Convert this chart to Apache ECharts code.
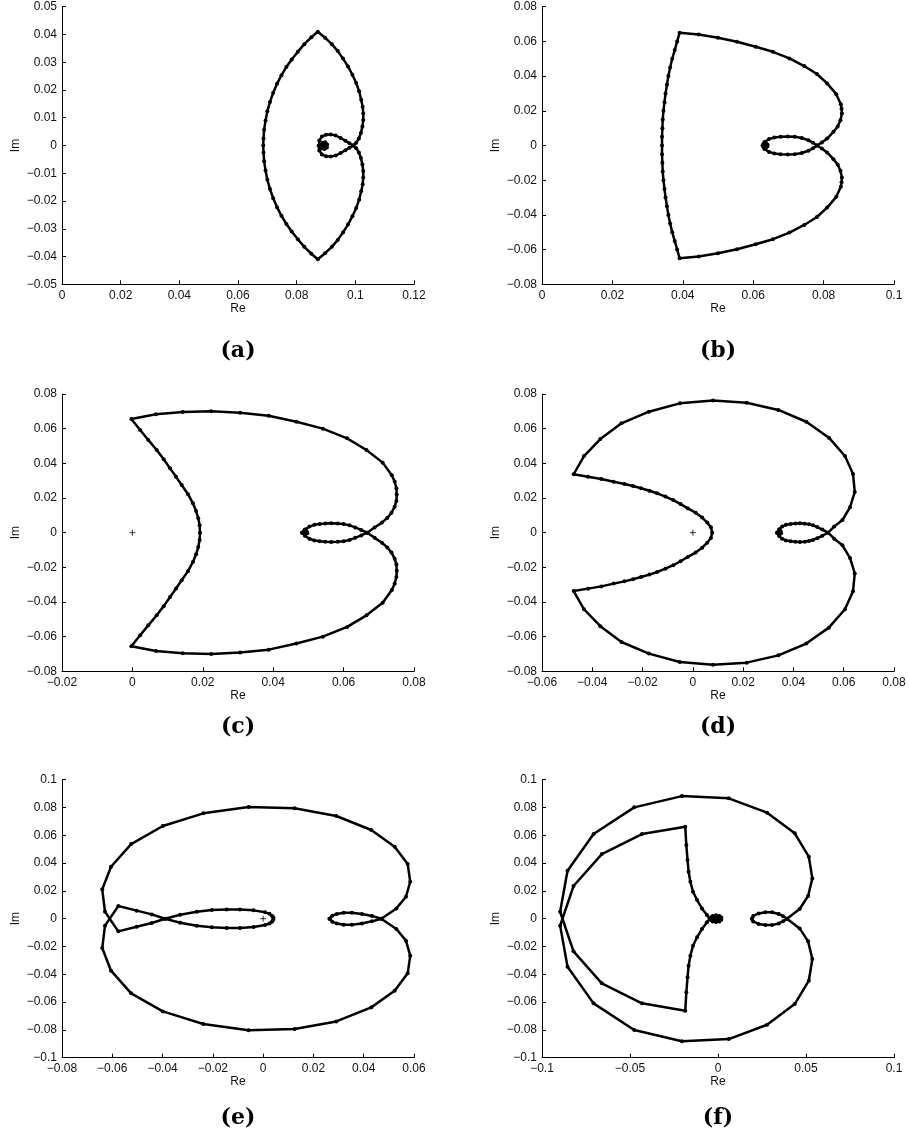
<!DOCTYPE html>
<html>
<head>
<meta charset="utf-8">
<script src="https://cdn.jsdelivr.net/npm/echarts@6/dist/echarts.min.js"></script>
<style>
html, body { margin: 0; padding: 0; background: #fff; }
#chart { width: 909px; height: 1142px; }
</style>
</head>
<body>
<div id="chart"></div>
<script>
// curve points [Re, Im], in drawing order
var curveA = [
    [0.0893, 0.0000], [0.0899, 0.0006], [0.0901, -0.0003], [0.0896, -0.0009], [0.0888, -0.0008], [0.0884, 0.0002],
    [0.0888, 0.0010], [0.0897, 0.0012], [0.0904, 0.0004], [0.0903, -0.0007], [0.0895, -0.0013], [0.0884, -0.0011], [0.0877, -0.0002],
    [0.0877, 0.0018], [0.0886, 0.0032], [0.0900, 0.0039], [0.0916, 0.0040], [0.0933, 0.0036], [0.0950, 0.0027], [0.0966, 0.0017],
    [0.0980, 0.0008], [0.0993, 0.0000],
    [0.1003, -0.0010], [0.1012, -0.0025], [0.1019, -0.0045], [0.1024, -0.0068], [0.1027, -0.0092], [0.1027, -0.0115], [0.1025, -0.0140],
    [0.1020, -0.0165], [0.1013, -0.0195], [0.1003, -0.0225], [0.0990, -0.0255], [0.0975, -0.0285], [0.0958, -0.0313], [0.0940, -0.0340],
    [0.0920, -0.0365], [0.0897, -0.0388], [0.0872, -0.0410],
    [0.0850, -0.0390], [0.0826, -0.0365], [0.0804, -0.0338], [0.0783, -0.0310], [0.0765, -0.0283], [0.0748, -0.0253], [0.0733, -0.0222],
    [0.0720, -0.0190], [0.0709, -0.0157], [0.0700, -0.0123], [0.0694, -0.0090], [0.0689, -0.0057], [0.0687, -0.0025], [0.0686, 0.0000],
    [0.0687, 0.0025], [0.0689, 0.0057], [0.0694, 0.0090], [0.0700, 0.0123], [0.0709, 0.0157], [0.0720, 0.0190], [0.0733, 0.0222],
    [0.0748, 0.0253], [0.0765, 0.0283], [0.0783, 0.0310], [0.0804, 0.0338], [0.0826, 0.0365], [0.0850, 0.0390], [0.0872, 0.0410],
    [0.0897, 0.0388], [0.0920, 0.0365], [0.0940, 0.0340], [0.0958, 0.0313], [0.0975, 0.0285], [0.0990, 0.0255], [0.1003, 0.0225],
    [0.1013, 0.0195], [0.1020, 0.0165], [0.1025, 0.0140], [0.1027, 0.0115], [0.1027, 0.0092], [0.1024, 0.0068], [0.1019, 0.0045],
    [0.1012, 0.0025], [0.1003, 0.0010], [0.0993, 0.0000],
    [0.0980, -0.0008], [0.0966, -0.0017], [0.0950, -0.0027], [0.0933, -0.0036], [0.0916, -0.0040], [0.0900, -0.0039], [0.0886, -0.0032],
    [0.0877, -0.0018], [0.0875, 0.0000]
];

var curveB = [
    [0.0634, 0.0000], [0.0638, 0.0008], [0.0640, -0.0004], [0.0635, -0.0012], [0.0629, -0.0006], [0.0629, 0.0008], [0.0635, 0.0014],
    [0.0641, 0.0004], [0.0638, -0.0010], [0.0630, -0.0012], [0.0627, 0.0000],
    [0.0632, 0.0020], [0.0645, 0.0037], [0.0660, 0.0046], [0.0678, 0.0051], [0.0698, 0.0052], [0.0718, 0.0050], [0.0738, 0.0043],
    [0.0757, 0.0030], [0.0770, 0.0016], [0.0781, 0.0000],
    [0.0795, -0.0017], [0.0810, -0.0040], [0.0828, -0.0079], [0.0840, -0.0110], [0.0848, -0.0145], [0.0852, -0.0185], [0.0851, -0.0212],
    [0.0849, -0.0238], [0.0836, -0.0296], [0.0810, -0.0358], [0.0781, -0.0412], [0.0745, -0.0458], [0.0703, -0.0502], [0.0656, -0.0540],
    [0.0607, -0.0569], [0.0554, -0.0598], [0.0500, -0.0621], [0.0445, -0.0640], [0.0391, -0.0650],
    [0.0384, -0.0600], [0.0377, -0.0550], [0.0370, -0.0500], [0.0364, -0.0450], [0.0359, -0.0400], [0.0355, -0.0350], [0.0351, -0.0300],
    [0.0348, -0.0250], [0.0345, -0.0200], [0.0343, -0.0150], [0.0342, -0.0100], [0.0341, -0.0050], [0.0341, 0.0000], [0.0341, 0.0050],
    [0.0342, 0.0100], [0.0343, 0.0150], [0.0345, 0.0200], [0.0348, 0.0250], [0.0351, 0.0300], [0.0355, 0.0350], [0.0359, 0.0400],
    [0.0364, 0.0450], [0.0370, 0.0500], [0.0377, 0.0550], [0.0384, 0.0600], [0.0391, 0.0650],
    [0.0445, 0.0640], [0.0500, 0.0621], [0.0554, 0.0598], [0.0607, 0.0569], [0.0656, 0.0540], [0.0703, 0.0502], [0.0745, 0.0458],
    [0.0781, 0.0412], [0.0810, 0.0358], [0.0836, 0.0296], [0.0849, 0.0238], [0.0851, 0.0212], [0.0852, 0.0185], [0.0848, 0.0145],
    [0.0840, 0.0110], [0.0828, 0.0079], [0.0810, 0.0040], [0.0795, 0.0017], [0.0781, 0.0000],
    [0.0770, -0.0016], [0.0757, -0.0030], [0.0738, -0.0043], [0.0718, -0.0050], [0.0698, -0.0052], [0.0678, -0.0051], [0.0660, -0.0046],
    [0.0645, -0.0037], [0.0632, -0.0020], [0.0627, 0.0000]
];

var curveC = [
    [0.0491, 0.0000], [0.0495, 0.0008], [0.0497, -0.0004], [0.0491, -0.0010], [0.0486, -0.0004], [0.0487, 0.0008], [0.0493, 0.0011],
    [0.0482, 0.0000],
    [0.0490, 0.0018], [0.0503, 0.0035], [0.0517, 0.0045], [0.0532, 0.0050], [0.0548, 0.0053], [0.0565, 0.0054], [0.0583, 0.0053],
    [0.0600, 0.0050], [0.0617, 0.0042], [0.0633, 0.0030], [0.0650, 0.0016], [0.0667, 0.0000],
    [0.0688, -0.0030], [0.0709, -0.0058], [0.0724, -0.0085], [0.0736, -0.0115], [0.0745, -0.0150], [0.0750, -0.0183], [0.0751, -0.0220],
    [0.0750, -0.0256], [0.0745, -0.0295], [0.0737, -0.0331], [0.0711, -0.0404], [0.0665, -0.0477], [0.0610, -0.0544], [0.0541, -0.0600],
    [0.0466, -0.0640], [0.0387, -0.0675], [0.0306, -0.0692], [0.0224, -0.0700], [0.0143, -0.0696], [0.0067, -0.0683], [-0.0003, -0.0656],
    [0.0022, -0.0592], [0.0045, -0.0535], [0.0069, -0.0477], [0.0089, -0.0424], [0.0107, -0.0371], [0.0124, -0.0322], [0.0140, -0.0275],
    [0.0158, -0.0222], [0.0172, -0.0169], [0.0181, -0.0125], [0.0187, -0.0083], [0.0191, -0.0042], [0.0192, 0.0000],
    [0.0191, 0.0042], [0.0187, 0.0083], [0.0181, 0.0125], [0.0172, 0.0169], [0.0158, 0.0222], [0.0140, 0.0275], [0.0124, 0.0322],
    [0.0107, 0.0371], [0.0089, 0.0424], [0.0069, 0.0477], [0.0045, 0.0535], [0.0022, 0.0592], [-0.0003, 0.0656],
    [0.0067, 0.0683], [0.0143, 0.0696], [0.0224, 0.0700], [0.0306, 0.0692], [0.0387, 0.0675], [0.0466, 0.0640], [0.0541, 0.0600],
    [0.0610, 0.0544], [0.0665, 0.0477], [0.0711, 0.0404], [0.0737, 0.0331], [0.0745, 0.0295], [0.0750, 0.0256], [0.0751, 0.0220],
    [0.0750, 0.0183], [0.0745, 0.0150], [0.0736, 0.0115], [0.0724, 0.0085], [0.0709, 0.0058], [0.0688, 0.0030], [0.0667, 0.0000],
    [0.0650, -0.0016], [0.0633, -0.0030], [0.0617, -0.0042], [0.0600, -0.0050], [0.0583, -0.0053], [0.0565, -0.0054], [0.0548, -0.0053],
    [0.0532, -0.0050], [0.0517, -0.0045], [0.0503, -0.0035], [0.0490, -0.0018], [0.0482, 0.0000]
];

var curveD = [
    [0.0345, 0.0000], [0.0349, 0.0008], [0.0351, -0.0004], [0.0345, -0.0010], [0.0340, -0.0004], [0.0341, 0.0008], [0.0347, 0.0011],
    [0.0335, 0.0000],
    [0.0343, 0.0020], [0.0355, 0.0035], [0.0370, 0.0045], [0.0389, 0.0050], [0.0408, 0.0053], [0.0426, 0.0054], [0.0445, 0.0052],
    [0.0462, 0.0048], [0.0478, 0.0042], [0.0495, 0.0032], [0.0515, 0.0018], [0.0538, 0.0000],
    [0.0562, -0.0035], [0.0595, -0.0073], [0.0625, -0.0146], [0.0644, -0.0235], [0.0637, -0.0338], [0.0605, -0.0442], [0.0541, -0.0548],
    [0.0451, -0.0640], [0.0340, -0.0708], [0.0214, -0.0750], [0.0080, -0.0762], [-0.0052, -0.0746], [-0.0175, -0.0698], [-0.0284, -0.0631],
    [-0.0368, -0.0540], [-0.0433, -0.0442], [-0.0474, -0.0337],
    [-0.0417, -0.0323], [-0.0364, -0.0310], [-0.0315, -0.0294], [-0.0272, -0.0281], [-0.0238, -0.0269], [-0.0206, -0.0256], [-0.0173, -0.0242],
    [-0.0142, -0.0227], [-0.0109, -0.0208], [-0.0078, -0.0188], [-0.0049, -0.0165], [-0.0020, -0.0140], [0.0011, -0.0115], [0.0037, -0.0087],
    [0.0057, -0.0058], [0.0072, -0.0031], [0.0077, 0.0000],
    [0.0072, 0.0031], [0.0057, 0.0058], [0.0037, 0.0087], [0.0011, 0.0115], [-0.0020, 0.0140], [-0.0049, 0.0165], [-0.0078, 0.0188],
    [-0.0109, 0.0208], [-0.0142, 0.0227], [-0.0173, 0.0242], [-0.0206, 0.0256], [-0.0238, 0.0269], [-0.0272, 0.0281], [-0.0315, 0.0294],
    [-0.0364, 0.0310], [-0.0417, 0.0323], [-0.0474, 0.0337],
    [-0.0433, 0.0442], [-0.0368, 0.0540], [-0.0284, 0.0631], [-0.0175, 0.0698], [-0.0052, 0.0746], [0.0080, 0.0762], [0.0214, 0.0750],
    [0.0340, 0.0708], [0.0451, 0.0640], [0.0541, 0.0548], [0.0605, 0.0442], [0.0637, 0.0338], [0.0644, 0.0235], [0.0625, 0.0146],
    [0.0595, 0.0073], [0.0562, 0.0035], [0.0538, 0.0000],
    [0.0515, -0.0018], [0.0495, -0.0032], [0.0478, -0.0042], [0.0462, -0.0048], [0.0445, -0.0052], [0.0426, -0.0054], [0.0408, -0.0053],
    [0.0389, -0.0050], [0.0370, -0.0045], [0.0355, -0.0035], [0.0343, -0.0020], [0.0335, 0.0000]
];

var curveE = [
    [0.0264, 0.0000], [0.0275, 0.0022], [0.0293, 0.0034], [0.0320, 0.0043], [0.0353, 0.0043], [0.0393, 0.0034], [0.0433, 0.0019],
    [0.0470, 0.0000],
    [0.0530, -0.0074], [0.0568, -0.0158], [0.0585, -0.0266], [0.0575, -0.0393], [0.0523, -0.0518], [0.0430, -0.0638], [0.0291, -0.0739],
    [0.0125, -0.0794], [-0.0058, -0.0803], [-0.0238, -0.0758], [-0.0399, -0.0667], [-0.0525, -0.0537], [-0.0605, -0.0374],
    [-0.0640, -0.0211], [-0.0629, -0.0050],
    [-0.0576, 0.0091], [-0.0503, 0.0058], [-0.0443, 0.0031], [-0.0390, 0.0000],
    [-0.0330, -0.0029], [-0.0264, -0.0050], [-0.0204, -0.0062], [-0.0145, -0.0067], [-0.0092, -0.0067], [-0.0038, -0.0060],
    [0.0008, -0.0046], [0.0025, -0.0035], [0.0035, -0.0022], [0.0040, -0.0010], [0.0041, 0.0000], [0.0040, 0.0010], [0.0035, 0.0022],
    [0.0025, 0.0035], [0.0008, 0.0046], [-0.0038, 0.0060], [-0.0092, 0.0067], [-0.0145, 0.0067], [-0.0204, 0.0062], [-0.0264, 0.0050],
    [-0.0330, 0.0029], [-0.0390, 0.0000],
    [-0.0443, -0.0031], [-0.0503, -0.0058], [-0.0576, -0.0091],
    [-0.0629, 0.0050], [-0.0640, 0.0211], [-0.0605, 0.0374], [-0.0525, 0.0537], [-0.0399, 0.0667], [-0.0238, 0.0758], [-0.0058, 0.0803],
    [0.0125, 0.0794], [0.0291, 0.0739], [0.0430, 0.0638], [0.0523, 0.0518], [0.0575, 0.0393], [0.0585, 0.0266], [0.0568, 0.0158],
    [0.0530, 0.0074], [0.0470, 0.0000],
    [0.0433, -0.0019], [0.0393, -0.0034], [0.0353, -0.0043], [0.0320, -0.0043], [0.0293, -0.0034], [0.0275, -0.0022], [0.0264, 0.0000]
];

var curveF = [
    [0.0193, 0.0000], [0.0200, 0.0020], [0.0231, 0.0038], [0.0269, 0.0046], [0.0307, 0.0046], [0.0345, 0.0034], [0.0370, 0.0018],
    [0.0392, 0.0000],
    [0.0464, -0.0070], [0.0512, -0.0163], [0.0536, -0.0290], [0.0516, -0.0446], [0.0436, -0.0614], [0.0279, -0.0763], [0.0061, -0.0866],
    [-0.0205, -0.0882], [-0.0476, -0.0801], [-0.0707, -0.0609], [-0.0855, -0.0345], [-0.0897, -0.0050],
    [-0.0821, 0.0235], [-0.0660, 0.0465], [-0.0432, 0.0609], [-0.0186, 0.0662],
    [-0.0180, 0.0530], [-0.0173, 0.0422], [-0.0167, 0.0338], [-0.0157, 0.0266], [-0.0142, 0.0194], [-0.0119, 0.0134], [-0.0091, 0.0074],
    [-0.0063, 0.0026], [-0.0047, 0.0000],
    [-0.0040, 0.0010], [-0.0030, 0.0020], [-0.0011, 0.0024], [0.0008, 0.0020], [0.0019, 0.0008], [0.0019, -0.0008], [0.0008, -0.0020],
    [-0.0011, -0.0024], [-0.0030, -0.0020], [-0.0040, -0.0010], [-0.0032, 0.0008], [-0.0011, 0.0013], [0.0005, 0.0008], [0.0005, -0.0008],
    [-0.0011, -0.0013], [-0.0028, -0.0006], [-0.0047, 0.0000],
    [-0.0063, -0.0026], [-0.0091, -0.0074], [-0.0119, -0.0134], [-0.0142, -0.0194], [-0.0157, -0.0266], [-0.0167, -0.0338],
    [-0.0173, -0.0422], [-0.0180, -0.0530], [-0.0186, -0.0662],
    [-0.0432, -0.0609], [-0.0660, -0.0465], [-0.0821, -0.0235], [-0.0897, 0.0050],
    [-0.0855, 0.0345], [-0.0707, 0.0609], [-0.0476, 0.0801], [-0.0205, 0.0882], [0.0061, 0.0866], [0.0279, 0.0763], [0.0436, 0.0614],
    [0.0516, 0.0446], [0.0536, 0.0290], [0.0512, 0.0163], [0.0464, 0.0070], [0.0392, 0.0000],
    [0.0370, -0.0018], [0.0345, -0.0034], [0.0307, -0.0046], [0.0269, -0.0046], [0.0231, -0.0038], [0.0200, -0.0020], [0.0193, 0.0000]
];

// the "+" at the origin (panels c, d, e)
var originMarks = [[], [], [[0, 0]], [[0, 0]], [[0, 0]], []];

var panelNames = ['(a)', '(b)', '(c)', '(d)', '(e)', '(f)'];
// [min, max, step]
var xRanges = [[0, 0.12, 0.02], [0, 0.1, 0.02], [-0.02, 0.08, 0.02], [-0.06, 0.08, 0.02], [-0.08, 0.06, 0.02], [-0.1, 0.1, 0.05]];
var yRanges = [[-0.05, 0.05, 0.01], [-0.08, 0.08, 0.02], [-0.08, 0.08, 0.02], [-0.08, 0.08, 0.02], [-0.1, 0.1, 0.02], [-0.1, 0.1, 0.02]];

var curves = [curveA, curveB, curveC, curveD, curveE, curveF];

var colLeft = [62, 542];
var rowTop = [6.7, 394, 779.7];
var rowHeight = [277.6, 277.3, 278];
var captionY = [351, 727, 1118];
var plotWidth = 352;
var labelFont = 'Liberation Sans';

function tickText(v) {
    return String(+v.toFixed(4)).replace('-', '\u2212');
}

function axisStyle(range, name, gap) {
    return {
        type: 'value',
        min: range[0],
        max: range[1],
        interval: range[2],
        name: name,
        nameLocation: 'middle',
        nameGap: gap,
        nameTextStyle: {color: '#111', fontSize: 12, fontFamily: labelFont},
        axisLine: {onZero: false, lineStyle: {color: '#000', width: 1}},
        axisTick: {inside: true, length: 4, lineStyle: {color: '#000', width: 1}},
        axisLabel: {color: '#111', fontSize: 12, fontFamily: labelFont, margin: 5, formatter: tickText},
        splitLine: {show: false}
    };
}

var grids = [], xAxes = [], yAxes = [], series = [], graphics = [];
for (var i = 0; i < 6; i++) {
    var col = i % 2;
    var row = Math.floor(i / 2);
    grids.push({left: colLeft[col], top: rowTop[row], width: plotWidth, height: rowHeight[row]});
    xAxes[i] = axisStyle(xRanges[i], 'Re', 17);
    xAxes[i].gridIndex = i;
    yAxes[i] = axisStyle(yRanges[i], 'Im', 40);
    yAxes[i].gridIndex = i;

    series.push({
        type: 'line',
        xAxisIndex: i,
        yAxisIndex: i,
        data: curves[i],
        symbol: 'circle',
        symbolSize: 4,
        showSymbol: true,
        lineStyle: {color: '#000', width: 2.5},
        itemStyle: {color: '#000'},
        silent: true
    });
    if (originMarks[i].length) {
        series.push({
            type: 'scatter',
            xAxisIndex: i,
            yAxisIndex: i,
            data: originMarks[i],
            symbol: 'path://M0,4H8M4,0V8',
            symbolSize: 6,
            itemStyle: {color: 'none', borderColor: '#000', borderWidth: 1},
            silent: true
        });
    }
    graphics.push({
        type: 'text',
        x: colLeft[col] + plotWidth / 2,
        y: captionY[row],
        style: {
            text: panelNames[i],
            align: 'center',
            verticalAlign: 'middle',
            font: 'bold 22px "DejaVu Serif"',
            fill: '#000'
        }
    });
}

var myChart = echarts.init(document.getElementById('chart'));
myChart.setOption({
    animation: false,
    backgroundColor: '#fff',
    grid: grids,
    xAxis: xAxes,
    yAxis: yAxes,
    series: series,
    graphic: graphics
});
</script>
</body>
</html>
